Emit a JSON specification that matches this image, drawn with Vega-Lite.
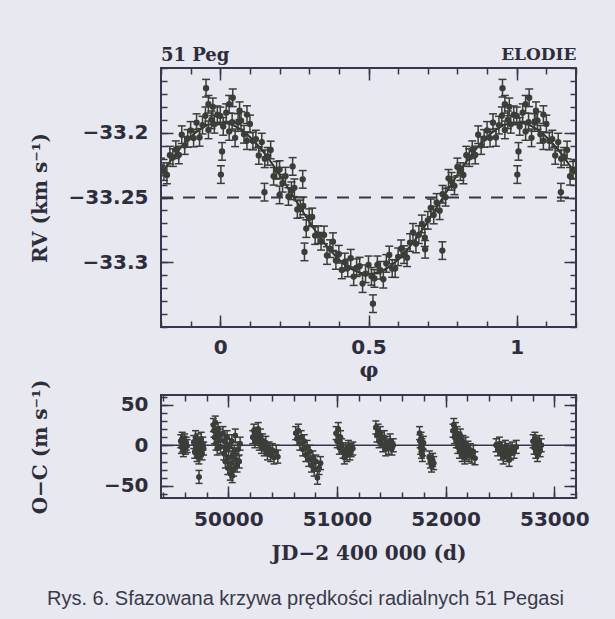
{
  "$schema": "https://vega.github.io/schema/vega-lite/v6.json",
  "autosize": {"type": "none"},
  "padding": {"left": 161, "top": 68, "right": 454, "bottom": 551},
  "background": "#e8e8f0",
  "title": {"text": "Rys. 6. Sfazowana krzywa prędkości radialnych 51 Pegasi", "orient": "bottom", "anchor": "start", "frame": "group", "dx": -114, "offset": 25, "font": "Liberation Sans", "fontSize": 20, "fontWeight": "normal", "color": "#3a3a4c"},
  "spacing": 68,
  "bounds": "flush",
  "config": {
    "view": {"stroke": "#38364c", "strokeWidth": 2},
    "axis": {"domain": false, "grid": false, "ticks": true, "tickColor": "#38364c", "tickWidth": 1.5, "tickSize": -6, "tickOpacity": 1, "labelFont": "DejaVu Sans", "labelFontSize": 20, "labelFontWeight": "bold", "labelColor": "#2e2d3c", "labelOverlap": false, "labelBound": false, "labelFlush": false, "titleFont": "DejaVu Serif", "titleFontWeight": "bold", "titleFontSize": 20, "titleColor": "#2e2d3c"}
  },
  "datasets": {
    "fit": [
      {"p": -0.2, "v": -33.2324}, {"p": -0.15, "v": -33.2161}, {"p": -0.1, "v": -33.2032}, {"p": -0.05, "v": -33.1949},
      {"p": 0, "v": -33.192}, {"p": 0.05, "v": -33.1949}, {"p": 0.1, "v": -33.2032}, {"p": 0.15, "v": -33.2161},
      {"p": 0.2, "v": -33.2324}, {"p": 0.25, "v": -33.2505}, {"p": 0.3, "v": -33.2686}, {"p": 0.35, "v": -33.2849},
      {"p": 0.4, "v": -33.2978}, {"p": 0.45, "v": -33.3061}, {"p": 0.5, "v": -33.309}, {"p": 0.55, "v": -33.3061},
      {"p": 0.6, "v": -33.2978}, {"p": 0.65, "v": -33.2849}, {"p": 0.7, "v": -33.2686}, {"p": 0.75, "v": -33.2505},
      {"p": 0.8, "v": -33.2324}, {"p": 0.85, "v": -33.2161}, {"p": 0.9, "v": -33.2032}, {"p": 0.95, "v": -33.1949},
      {"p": 1, "v": -33.192}, {"p": 1.05, "v": -33.1949}, {"p": 1.1, "v": -33.2032}, {"p": 1.15, "v": -33.2161},
      {"p": 1.2, "v": -33.2324}
    ],
    "rv": [
      {"p": 0, "v": -33.187, "e": 0.0068}, {"p": 0.01, "v": -33.1951, "e": 0.0068}, {"p": 0.02, "v": -33.1845, "e": 0.0068}, {"p": 0.03, "v": -33.199, "e": 0.0068}, {"p": 0.04, "v": -33.1918, "e": 0.0068},
      {"p": 0.05, "v": -33.2039, "e": 0.0068}, {"p": 0.06, "v": -33.1921, "e": 0.0068}, {"p": 0.07, "v": -33.1906, "e": 0.0068}, {"p": 0.08, "v": -33.2012, "e": 0.0068}, {"p": 0.09, "v": -33.2061, "e": 0.0068},
      {"p": 0.1, "v": -33.1932, "e": 0.0068}, {"p": 0.11, "v": -33.2064, "e": 0.0068}, {"p": 0.12, "v": -33.2049, "e": 0.0068}, {"p": 0.13, "v": -33.2175, "e": 0.0068}, {"p": 0.14, "v": -33.2072, "e": 0.0068},
      {"p": 0.15, "v": -33.2201, "e": 0.0068}, {"p": 0.16, "v": -33.2182, "e": 0.0068}, {"p": 0.17, "v": -33.2133, "e": 0.0068}, {"p": 0.18, "v": -33.2336, "e": 0.0068}, {"p": 0.19, "v": -33.229, "e": 0.0068},
      {"p": 0.2, "v": -33.2284, "e": 0.0068}, {"p": 0.21, "v": -33.239, "e": 0.0068}, {"p": 0.22, "v": -33.2335, "e": 0.0068}, {"p": 0.23, "v": -33.2492, "e": 0.0068}, {"p": 0.24, "v": -33.2448, "e": 0.0068},
      {"p": 0.25, "v": -33.2425, "e": 0.0068}, {"p": 0.26, "v": -33.2592, "e": 0.0068}, {"p": 0.27, "v": -33.2588, "e": 0.0068}, {"p": 0.28, "v": -33.2565, "e": 0.0068}, {"p": 0.29, "v": -33.274, "e": 0.0068},
      {"p": 0.3, "v": -33.2656, "e": 0.0068}, {"p": 0.31, "v": -33.265, "e": 0.0068}, {"p": 0.32, "v": -33.2794, "e": 0.0068}, {"p": 0.33, "v": -33.2787, "e": 0.0068}, {"p": 0.34, "v": -33.2838, "e": 0.0068},
      {"p": 0.35, "v": -33.2789, "e": 0.0068}, {"p": 0.36, "v": -33.2948, "e": 0.0068}, {"p": 0.37, "v": -33.2895, "e": 0.0068}, {"p": 0.38, "v": -33.2841, "e": 0.0068}, {"p": 0.39, "v": -33.2986, "e": 0.0068},
      {"p": 0.4, "v": -33.2938, "e": 0.0068}, {"p": 0.41, "v": -33.3059, "e": 0.0068}, {"p": 0.42, "v": -33.2998, "e": 0.0068}, {"p": 0.43, "v": -33.3044, "e": 0.0068}, {"p": 0.44, "v": -33.2969, "e": 0.0068},
      {"p": 0.45, "v": -33.3111, "e": 0.0068}, {"p": 0.46, "v": -33.3042, "e": 0.0068}, {"p": 0.47, "v": -33.303, "e": 0.0068}, {"p": 0.48, "v": -33.3165, "e": 0.0068}, {"p": 0.49, "v": -33.3089, "e": 0.0068},
      {"p": 0.5, "v": -33.302, "e": 0.0068}, {"p": 0.51, "v": -33.3109, "e": 0.0068}, {"p": 0.52, "v": -33.3125, "e": 0.0068}, {"p": 0.53, "v": -33.302, "e": 0.0068}, {"p": 0.54, "v": -33.3062, "e": 0.0068},
      {"p": 0.55, "v": -33.3131, "e": 0.0068}, {"p": 0.56, "v": -33.3009, "e": 0.0068}, {"p": 0.57, "v": -33.2944, "e": 0.0068}, {"p": 0.58, "v": -33.3048, "e": 0.0068}, {"p": 0.59, "v": -33.3049, "e": 0.0068},
      {"p": 0.6, "v": -33.2958, "e": 0.0068}, {"p": 0.61, "v": -33.2896, "e": 0.0068}, {"p": 0.62, "v": -33.2941, "e": 0.0068}, {"p": 0.63, "v": -33.2965, "e": 0.0068}, {"p": 0.64, "v": -33.2848, "e": 0.0068},
      {"p": 0.65, "v": -33.2769, "e": 0.0068}, {"p": 0.66, "v": -33.2858, "e": 0.0068}, {"p": 0.67, "v": -33.2787, "e": 0.0068}, {"p": 0.68, "v": -33.2704, "e": 0.0068}, {"p": 0.69, "v": -33.281, "e": 0.0068},
      {"p": 0.7, "v": -33.2676, "e": 0.0068}, {"p": 0.71, "v": -33.258, "e": 0.0068}, {"p": 0.72, "v": -33.2635, "e": 0.0068}, {"p": 0.73, "v": -33.2538, "e": 0.0068}, {"p": 0.74, "v": -33.2602, "e": 0.0068},
      {"p": 0.75, "v": -33.2475, "e": 0.0068}, {"p": 0.76, "v": -33.2498, "e": 0.0068}, {"p": 0.77, "v": -33.2352, "e": 0.0068}, {"p": 0.78, "v": -33.2375, "e": 0.0068}, {"p": 0.79, "v": -33.241, "e": 0.0068},
      {"p": 0.8, "v": -33.2264, "e": 0.0068}, {"p": 0.81, "v": -33.23, "e": 0.0068}, {"p": 0.82, "v": -33.2326, "e": 0.0068}, {"p": 0.83, "v": -33.2173, "e": 0.0068}, {"p": 0.84, "v": -33.2192, "e": 0.0068},
      {"p": 0.85, "v": -33.2131, "e": 0.0068}, {"p": 0.86, "v": -33.2172, "e": 0.0068}, {"p": 0.87, "v": -33.2015, "e": 0.0068}, {"p": 0.88, "v": -33.2099, "e": 0.0068}, {"p": 0.89, "v": -33.2044, "e": 0.0068},
      {"p": 0.9, "v": -33.1982, "e": 0.0068}, {"p": 0.91, "v": -33.2041, "e": 0.0068}, {"p": 0.92, "v": -33.1922, "e": 0.0068}, {"p": 0.93, "v": -33.2036, "e": 0.0068}, {"p": 0.94, "v": -33.1941, "e": 0.0068},
      {"p": 0.95, "v": -33.1869, "e": 0.0068}, {"p": 0.96, "v": -33.1978, "e": 0.0068}, {"p": 0.97, "v": -33.19, "e": 0.0068}, {"p": 0.98, "v": -33.1935, "e": 0.0068}, {"p": 0.99, "v": -33.1861, "e": 0.0068},
      {"p": 0.952, "v": -33.1656, "e": 0.0068}, {"p": 0.042, "v": -33.173, "e": 0.0068}, {"p": 0.006, "v": -33.2144, "e": 0.0068}, {"p": 0.002, "v": -33.2323, "e": 0.0068}, {"p": 0.149, "v": -33.2459, "e": 0.0068},
      {"p": 0.244, "v": -33.226, "e": 0.0068}, {"p": 0.278, "v": -33.236, "e": 0.0068}, {"p": 0.2, "v": -33.248, "e": 0.0068}, {"p": 0.284, "v": -33.292, "e": 0.0068}, {"p": 0.515, "v": -33.332, "e": 0.0068},
      {"p": 0.691, "v": -33.29, "e": 0.0068}, {"p": 0.749, "v": -33.291, "e": 0.0068}, {"p": 0.03, "v": -33.178, "e": 0.0068}, {"p": 0.065, "v": -33.183, "e": 0.0068}, {"p": 0.09, "v": -33.186, "e": 0.0068},
      {"p": 0.96, "v": -33.178, "e": 0.0068}, {"p": 0.975, "v": -33.18, "e": 0.0068},
      {"p": -0.2, "v": -33.2264, "e": 0.0068}, {"p": -0.19, "v": -33.23, "e": 0.0068}, {"p": -0.18, "v": -33.2326, "e": 0.0068}, {"p": -0.17, "v": -33.2173, "e": 0.0068}, {"p": -0.16, "v": -33.2192, "e": 0.0068},
      {"p": -0.15, "v": -33.2131, "e": 0.0068}, {"p": -0.14, "v": -33.2172, "e": 0.0068}, {"p": -0.13, "v": -33.2015, "e": 0.0068}, {"p": -0.12, "v": -33.2099, "e": 0.0068}, {"p": -0.11, "v": -33.2044, "e": 0.0068},
      {"p": -0.1, "v": -33.1982, "e": 0.0068}, {"p": -0.09, "v": -33.2041, "e": 0.0068}, {"p": -0.08, "v": -33.1922, "e": 0.0068}, {"p": -0.07, "v": -33.2036, "e": 0.0068}, {"p": -0.06, "v": -33.1941, "e": 0.0068},
      {"p": -0.05, "v": -33.1869, "e": 0.0068}, {"p": -0.04, "v": -33.1978, "e": 0.0068}, {"p": -0.03, "v": -33.19, "e": 0.0068}, {"p": -0.02, "v": -33.1935, "e": 0.0068}, {"p": -0.01, "v": -33.1861, "e": 0.0068},
      {"p": -0.048, "v": -33.1656, "e": 0.0068}, {"p": -0.04, "v": -33.178, "e": 0.0068}, {"p": -0.025, "v": -33.18, "e": 0.0068},
      {"p": 1, "v": -33.187, "e": 0.0068}, {"p": 1.01, "v": -33.1951, "e": 0.0068}, {"p": 1.02, "v": -33.1845, "e": 0.0068}, {"p": 1.03, "v": -33.199, "e": 0.0068}, {"p": 1.04, "v": -33.1918, "e": 0.0068},
      {"p": 1.05, "v": -33.2039, "e": 0.0068}, {"p": 1.06, "v": -33.1921, "e": 0.0068}, {"p": 1.07, "v": -33.1906, "e": 0.0068}, {"p": 1.08, "v": -33.2012, "e": 0.0068}, {"p": 1.09, "v": -33.2061, "e": 0.0068},
      {"p": 1.1, "v": -33.1932, "e": 0.0068}, {"p": 1.11, "v": -33.2064, "e": 0.0068}, {"p": 1.12, "v": -33.2049, "e": 0.0068}, {"p": 1.13, "v": -33.2175, "e": 0.0068}, {"p": 1.14, "v": -33.2072, "e": 0.0068},
      {"p": 1.15, "v": -33.2201, "e": 0.0068}, {"p": 1.16, "v": -33.2182, "e": 0.0068}, {"p": 1.17, "v": -33.2133, "e": 0.0068}, {"p": 1.18, "v": -33.2336, "e": 0.0068}, {"p": 1.19, "v": -33.229, "e": 0.0068},
      {"p": 1.2, "v": -33.2284, "e": 0.0068},
      {"p": 1.042, "v": -33.173, "e": 0.0068}, {"p": 1.006, "v": -33.2144, "e": 0.0068}, {"p": 1.002, "v": -33.2323, "e": 0.0068}, {"p": 1.149, "v": -33.2459, "e": 0.0068}, {"p": 1.03, "v": -33.178, "e": 0.0068},
      {"p": 1.065, "v": -33.183, "e": 0.0068}, {"p": 1.09, "v": -33.186, "e": 0.0068}
    ],
    "oc": [
      {"t": 49562, "r": 5, "e": 8}, {"t": 49568, "r": -2, "e": 8}, {"t": 49575, "r": 8, "e": 8}, {"t": 49580, "r": 0, "e": 8}, {"t": 49586, "r": -6, "e": 8}, {"t": 49592, "r": 3, "e": 8}, {"t": 49598, "r": 6, "e": 8}, {"t": 49605, "r": -3, "e": 8}, {"t": 49612, "r": 2, "e": 8}, {"t": 49620, "r": -1, "e": 8},
      {"t": 49682, "r": 4, "e": 8}, {"t": 49690, "r": -8, "e": 8}, {"t": 49698, "r": 10, "e": 8}, {"t": 49705, "r": -3, "e": 8}, {"t": 49712, "r": -12, "e": 8}, {"t": 49720, "r": 6, "e": 8}, {"t": 49728, "r": -15, "e": 8}, {"t": 49735, "r": 0, "e": 8}, {"t": 49742, "r": -6, "e": 8}, {"t": 49750, "r": 8, "e": 8}, {"t": 49758, "r": -10, "e": 8}, {"t": 49765, "r": 2, "e": 8}, {"t": 49772, "r": -4, "e": 8}, {"t": 49730, "r": -39, "e": 8},
      {"t": 49862, "r": 25, "e": 8}, {"t": 49868, "r": 18, "e": 8}, {"t": 49874, "r": 10, "e": 8}, {"t": 49880, "r": 28, "e": 8}, {"t": 49886, "r": 2, "e": 8}, {"t": 49892, "r": 15, "e": 8}, {"t": 49898, "r": -4, "e": 8}, {"t": 49905, "r": 20, "e": 8}, {"t": 49912, "r": 8, "e": 8}, {"t": 49920, "r": 12, "e": 8}, {"t": 49928, "r": -2, "e": 8},
      {"t": 49950, "r": 15, "e": 8}, {"t": 49958, "r": -10, "e": 8}, {"t": 49965, "r": 5, "e": 8}, {"t": 49972, "r": -20, "e": 8}, {"t": 49980, "r": -5, "e": 8}, {"t": 49988, "r": 10, "e": 8}, {"t": 49995, "r": -28, "e": 8}, {"t": 50002, "r": -15, "e": 8}, {"t": 50010, "r": 0, "e": 8}, {"t": 50018, "r": -35, "e": 8}, {"t": 50025, "r": -22, "e": 8}, {"t": 50035, "r": -38, "e": 8}, {"t": 50032, "r": 5, "e": 8}, {"t": 50040, "r": -12, "e": 8}, {"t": 50048, "r": -30, "e": 8}, {"t": 50056, "r": -8, "e": 8}, {"t": 50064, "r": 12, "e": 8}, {"t": 50072, "r": -18, "e": 8}, {"t": 50080, "r": -25, "e": 8}, {"t": 50090, "r": -5, "e": 8}, {"t": 50100, "r": -20, "e": 8}, {"t": 50108, "r": 2, "e": 8},
      {"t": 50225, "r": 10, "e": 8}, {"t": 50235, "r": 18, "e": 8}, {"t": 50245, "r": 5, "e": 8}, {"t": 50255, "r": 14, "e": 8}, {"t": 50265, "r": 8, "e": 8}, {"t": 50275, "r": 20, "e": 8}, {"t": 50285, "r": 2, "e": 8}, {"t": 50295, "r": 12, "e": 8}, {"t": 50305, "r": -2, "e": 8}, {"t": 50315, "r": 6, "e": 8}, {"t": 50330, "r": -5, "e": 8}, {"t": 50345, "r": 3, "e": 8}, {"t": 50360, "r": -10, "e": 8}, {"t": 50375, "r": -4, "e": 8}, {"t": 50390, "r": -12, "e": 8}, {"t": 50405, "r": -6, "e": 8}, {"t": 50420, "r": -15, "e": 8}, {"t": 50440, "r": -8, "e": 8}, {"t": 50455, "r": -14, "e": 8},
      {"t": 50620, "r": 15, "e": 8}, {"t": 50632, "r": 8, "e": 8}, {"t": 50645, "r": 18, "e": 8}, {"t": 50658, "r": 2, "e": 8}, {"t": 50670, "r": 10, "e": 8}, {"t": 50685, "r": -5, "e": 8}, {"t": 50698, "r": 5, "e": 8}, {"t": 50712, "r": -12, "e": 8}, {"t": 50725, "r": -2, "e": 8}, {"t": 50740, "r": -18, "e": 8}, {"t": 50752, "r": -8, "e": 8}, {"t": 50765, "r": -25, "e": 8}, {"t": 50778, "r": -15, "e": 8}, {"t": 50790, "r": -30, "e": 8}, {"t": 50805, "r": -20, "e": 8}, {"t": 50820, "r": -40, "e": 8}, {"t": 50835, "r": -28, "e": 8}, {"t": 50848, "r": -22, "e": 8},
      {"t": 50992, "r": 15, "e": 8}, {"t": 51002, "r": 5, "e": 8}, {"t": 51012, "r": 20, "e": 8}, {"t": 51022, "r": -3, "e": 8}, {"t": 51032, "r": 10, "e": 8}, {"t": 51042, "r": 0, "e": 8}, {"t": 51055, "r": -8, "e": 8}, {"t": 51068, "r": -15, "e": 8}, {"t": 51080, "r": -5, "e": 8}, {"t": 51092, "r": -12, "e": 8}, {"t": 51105, "r": -2, "e": 8}, {"t": 51118, "r": -10, "e": 8}, {"t": 51130, "r": -6, "e": 8}, {"t": 51145, "r": -4, "e": 8},
      {"t": 51358, "r": 22, "e": 8}, {"t": 51368, "r": 12, "e": 8}, {"t": 51378, "r": 18, "e": 8}, {"t": 51388, "r": 5, "e": 8}, {"t": 51398, "r": 15, "e": 8}, {"t": 51410, "r": 8, "e": 8}, {"t": 51422, "r": 0, "e": 8}, {"t": 51435, "r": 10, "e": 8}, {"t": 51448, "r": -5, "e": 8}, {"t": 51460, "r": 3, "e": 8}, {"t": 51475, "r": -3, "e": 8}, {"t": 51490, "r": 6, "e": 8}, {"t": 51505, "r": -4, "e": 8}, {"t": 51518, "r": 0, "e": 8},
      {"t": 51760, "r": 15, "e": 8}, {"t": 51765, "r": 5, "e": 8}, {"t": 51770, "r": -3, "e": 8}, {"t": 51774, "r": 8, "e": 8}, {"t": 51778, "r": -8, "e": 8}, {"t": 51782, "r": 0, "e": 8}, {"t": 51786, "r": -12, "e": 8}, {"t": 51790, "r": -5, "e": 8}, {"t": 51795, "r": 3, "e": 8}, {"t": 51850, "r": -15, "e": 8}, {"t": 51860, "r": -20, "e": 8}, {"t": 51870, "r": -25, "e": 8}, {"t": 51880, "r": -18, "e": 8}, {"t": 51890, "r": -22, "e": 8},
      {"t": 52068, "r": 18, "e": 8}, {"t": 52075, "r": 25, "e": 8}, {"t": 52082, "r": 10, "e": 8}, {"t": 52090, "r": 20, "e": 8}, {"t": 52098, "r": 5, "e": 8}, {"t": 52105, "r": 15, "e": 8}, {"t": 52112, "r": -2, "e": 8}, {"t": 52120, "r": 8, "e": 8}, {"t": 52128, "r": -8, "e": 8}, {"t": 52136, "r": 12, "e": 8}, {"t": 52144, "r": 0, "e": 8}, {"t": 52152, "r": -12, "e": 8}, {"t": 52160, "r": 4, "e": 8}, {"t": 52168, "r": -5, "e": 8}, {"t": 52176, "r": -15, "e": 8}, {"t": 52185, "r": 2, "e": 8}, {"t": 52195, "r": -10, "e": 8}, {"t": 52205, "r": -3, "e": 8}, {"t": 52215, "r": -12, "e": 8}, {"t": 52228, "r": -6, "e": 8}, {"t": 52240, "r": -14, "e": 8}, {"t": 52255, "r": -8, "e": 8}, {"t": 52270, "r": -16, "e": 8},
      {"t": 52465, "r": 0, "e": 8}, {"t": 52480, "r": -5, "e": 8}, {"t": 52495, "r": 2, "e": 8}, {"t": 52510, "r": -10, "e": 8}, {"t": 52520, "r": -4, "e": 8}, {"t": 52530, "r": -15, "e": 8}, {"t": 52540, "r": -8, "e": 8}, {"t": 52550, "r": -2, "e": 8}, {"t": 52560, "r": -12, "e": 8}, {"t": 52572, "r": -6, "e": 8}, {"t": 52585, "r": -18, "e": 8}, {"t": 52598, "r": -10, "e": 8}, {"t": 52612, "r": -4, "e": 8}, {"t": 52630, "r": -8, "e": 8}, {"t": 52650, "r": -2, "e": 8},
      {"t": 52805, "r": 5, "e": 8}, {"t": 52815, "r": -3, "e": 8}, {"t": 52822, "r": 8, "e": 8}, {"t": 52830, "r": -8, "e": 8}, {"t": 52838, "r": 2, "e": 8}, {"t": 52845, "r": -12, "e": 8}, {"t": 52852, "r": -2, "e": 8}, {"t": 52860, "r": 4, "e": 8}, {"t": 52870, "r": -6, "e": 8}, {"t": 52880, "r": 0, "e": 8}
    ]
  },
  "vconcat": [
    {
      "width": 415,
      "height": 259,
      "title": {"text": "51 Peg", "anchor": "start", "frame": "group", "font": "DejaVu Serif", "fontWeight": "bold", "fontSize": 18, "color": "#2e2d3c", "offset": -20},
      "resolve": {"axis": {"x": "independent", "y": "independent"}},
      "layer": [
        {
          "data": {"values": [{}]},
          "mark": {"type": "rule", "strokeDash": [12, 10], "strokeWidth": 2, "color": "#38364c"},
          "encoding": {
            "x": {"datum": -0.2, "type": "quantitative", "scale": {"domain": [-0.2, 1.2], "nice": false, "zero": false},
              "axis": {"orient": "top", "values": [-0.2, -0.1, 0, 0.1, 0.2, 0.3, 0.4, 0.5, 0.6, 0.7, 0.8, 0.9, 1, 1.1, 1.2], "tickSize": -6, "labels": false, "title": null}},
            "x2": {"datum": 1.2},
            "y": {"datum": -33.25, "type": "quantitative", "scale": {"domain": [-33.35, -33.15], "nice": false, "zero": false},
              "axis": {"orient": "left", "values": [-33.35, -33.34, -33.33, -33.32, -33.31, -33.3, -33.29, -33.28, -33.27, -33.26, -33.25, -33.24, -33.23, -33.22, -33.21, -33.2, -33.19, -33.18, -33.17, -33.16, -33.15], "tickSize": -6, "labels": false, "title": null}}
          }
        },
        {
          "data": {"name": "fit"},
          "mark": {"type": "line", "color": "#2f302c", "strokeWidth": 2, "interpolate": "monotone", "clip": true},
          "encoding": {
            "x": {"field": "p", "type": "quantitative", "scale": {"domain": [-0.2, 1.2], "nice": false, "zero": false},
              "axis": {"orient": "bottom", "values": [-0.2, -0.1, 0, 0.1, 0.2, 0.3, 0.4, 0.5, 0.6, 0.7, 0.8, 0.9, 1, 1.1, 1.2], "tickSize": -6, "labels": false, "title": null}},
            "y": {"field": "v", "type": "quantitative", "scale": {"domain": [-33.35, -33.15], "nice": false, "zero": false},
              "axis": {"orient": "right", "values": [-33.35, -33.34, -33.33, -33.32, -33.31, -33.3, -33.29, -33.28, -33.27, -33.26, -33.25, -33.24, -33.23, -33.22, -33.21, -33.2, -33.19, -33.18, -33.17, -33.16, -33.15], "tickSize": -6, "labels": false, "title": null}}
          }
        },
        {
          "data": {"name": "rv"},
          "mark": {"type": "errorbar", "color": "#3b3d38", "opacity": 1, "ticks": {"size": 8, "thickness": 1.5, "clip": true, "color": "#3b3d38", "opacity": 1}, "rule": {"strokeWidth": 1.5, "clip": true, "color": "#3b3d38", "opacity": 1}},
          "encoding": {
            "x": {"field": "p", "type": "quantitative", "scale": {"domain": [-0.2, 1.2], "nice": false, "zero": false},
              "axis": {"orient": "bottom", "values": [0, 0.5, 1], "tickSize": -12,
                "labelExpr": "datum.value == 0 ? '0' : datum.value == 0.5 ? '0.5' : datum.value == 1 ? '1' : ''",
                "labelPadding": 22, "title": "φ", "titlePadding": 2, "titleFontSize": 21}},
            "y": {"field": "v", "type": "quantitative", "scale": {"domain": [-33.35, -33.15], "nice": false, "zero": false},
              "axis": {"orient": "left", "values": [-33.3, -33.25, -33.2], "tickSize": -12,
                "labelExpr": "abs(datum.value + 33.2) < 1e-6 ? '−33.2' : abs(datum.value + 33.25) < 1e-6 ? '−33.25' : abs(datum.value + 33.3) < 1e-6 ? '−33.3' : ''",
                "labelPadding": 25, "title": "RV (km s⁻¹)", "titlePadding": 17}},
            "yError": {"field": "e"}
          }
        },
        {
          "data": {"name": "rv"},
          "mark": {"type": "point", "filled": true, "size": 40, "color": "#3b3d38", "opacity": 1, "clip": true},
          "encoding": {
            "x": {"field": "p", "type": "quantitative", "scale": {"domain": [-0.2, 1.2], "nice": false, "zero": false},
              "axis": {"orient": "top", "values": [0, 0.5, 1], "tickSize": -12,
                "labels": false, "title": "ELODIE", "titleAnchor": "end", "titleFontSize": 17, "titlePadding": 4}},
            "y": {"field": "v", "type": "quantitative", "scale": {"domain": [-33.35, -33.15], "nice": false, "zero": false},
              "axis": {"orient": "right", "values": [-33.3, -33.25, -33.2], "tickSize": -12, "labels": false, "title": null}}
          }
        }
      ]
    },
    {
      "width": 415,
      "height": 103,
      "resolve": {"axis": {"x": "independent", "y": "independent"}},
      "layer": [
        {
          "data": {"values": [{}]},
          "mark": {"type": "rule", "strokeWidth": 1.5, "color": "#38364c"},
          "encoding": {
            "x": {"datum": 49380, "type": "quantitative", "scale": {"domain": [49380, 53200], "nice": false, "zero": false},
              "axis": {"orient": "top", "values": [49400, 49600, 49800, 50000, 50200, 50400, 50600, 50800, 51000, 51200, 51400, 51600, 51800, 52000, 52200, 52400, 52600, 52800, 53000, 53200], "tickSize": -6, "labels": false, "title": null}},
            "x2": {"datum": 53200},
            "y": {"datum": 0, "type": "quantitative", "scale": {"domain": [-65, 62], "nice": false, "zero": false},
              "axis": {"orient": "left", "values": [-60, -50, -40, -30, -20, -10, 0, 10, 20, 30, 40, 50, 60], "tickSize": -6, "labels": false, "title": null}}
          }
        },
        {
          "data": {"name": "oc"},
          "mark": {"type": "errorbar", "color": "#3b3d38", "opacity": 1, "ticks": {"size": 7, "thickness": 1.5, "clip": true, "color": "#3b3d38", "opacity": 1}, "rule": {"strokeWidth": 1.5, "clip": true, "color": "#3b3d38", "opacity": 1}},
          "encoding": {
            "x": {"field": "t", "type": "quantitative", "scale": {"domain": [49380, 53200], "nice": false, "zero": false},
              "axis": {"orient": "bottom", "values": [50000, 51000, 52000, 53000], "tickSize": -12,
                "labelExpr": "format(datum.value, 'd')",
                "labelPadding": 23, "title": "JD−2 400 000 (d)", "titlePadding": 14}},
            "y": {"field": "r", "type": "quantitative", "scale": {"domain": [-65, 62], "nice": false, "zero": false},
              "axis": {"orient": "left", "values": [-50, 0, 50], "tickSize": -12,
                "labelExpr": "datum.value == 50 ? '50' : datum.value == 0 ? '0' : datum.value == -50 ? '−50' : ''",
                "labelPadding": 25, "title": "O−C (m s⁻¹)", "titlePadding": 53}},
            "yError": {"field": "e"}
          }
        },
        {
          "data": {"name": "oc"},
          "mark": {"type": "point", "filled": true, "size": 30, "color": "#3b3d38", "opacity": 1, "clip": true},
          "encoding": {
            "x": {"field": "t", "type": "quantitative", "scale": {"domain": [49380, 53200], "nice": false, "zero": false},
              "axis": {"orient": "top", "values": [50000, 51000, 52000, 53000], "tickSize": -12, "labels": false, "title": null}},
            "y": {"field": "r", "type": "quantitative", "scale": {"domain": [-65, 62], "nice": false, "zero": false},
              "axis": {"orient": "right", "values": [-50, 0, 50], "tickSize": -12, "labels": false, "title": null}}
          }
        },
        {
          "data": {"name": "oc"},
          "mark": {"type": "point", "filled": true, "size": 30, "color": "#3b3d38", "opacity": 1, "clip": true},
          "encoding": {
            "x": {"field": "t", "type": "quantitative", "scale": {"domain": [49380, 53200], "nice": false, "zero": false},
              "axis": {"orient": "bottom", "values": [49400, 49600, 49800, 50000, 50200, 50400, 50600, 50800, 51000, 51200, 51400, 51600, 51800, 52000, 52200, 52400, 52600, 52800, 53000, 53200], "tickSize": -6, "labels": false, "title": null}},
            "y": {"field": "r", "type": "quantitative", "scale": {"domain": [-65, 62], "nice": false, "zero": false},
              "axis": {"orient": "right", "values": [-60, -50, -40, -30, -20, -10, 0, 10, 20, 30, 40, 50, 60], "tickSize": -6, "labels": false, "title": null}}
          }
        }
      ]
    }
  ]
}
